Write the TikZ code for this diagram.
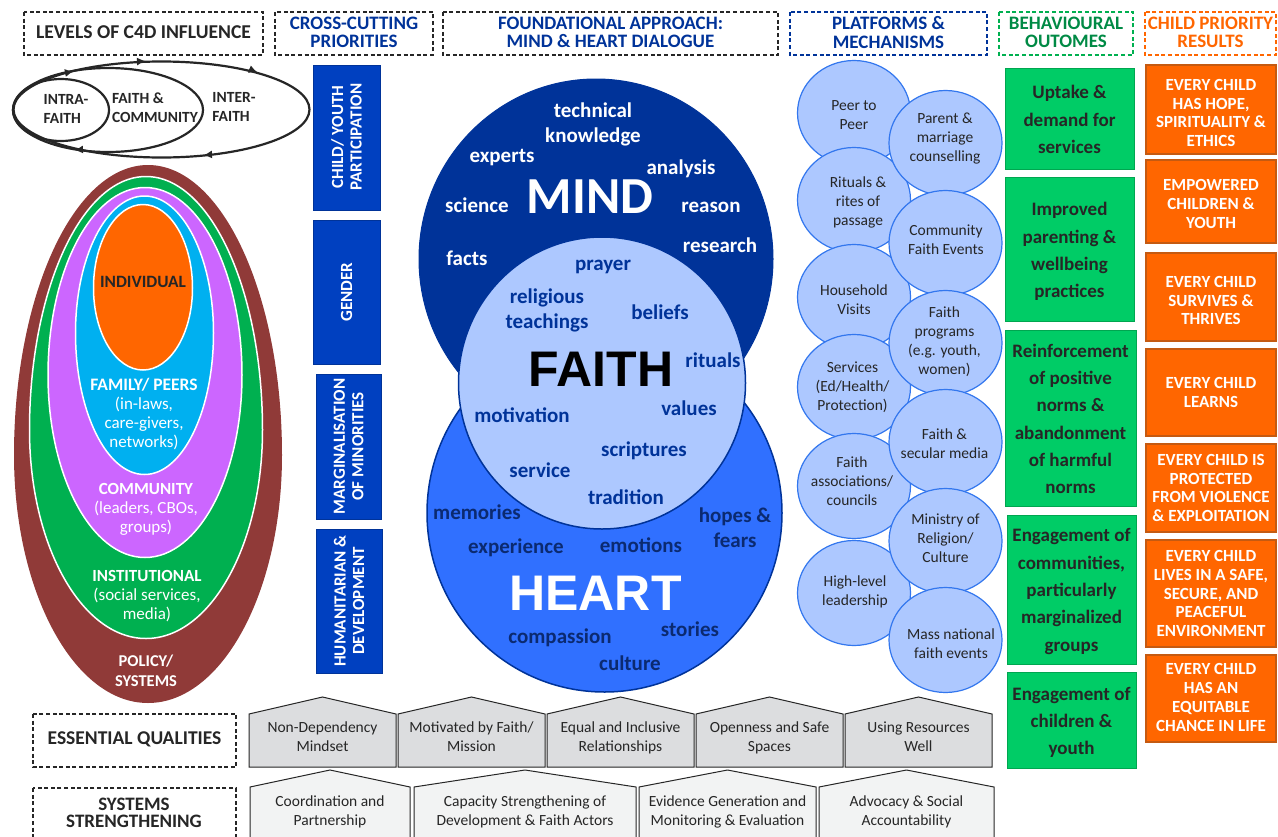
\documentclass[tikz,border=0pt]{standalone}
\usepackage{fontspec}
\setmainfont{Carlito}
\newfontfamily\arialf{Liberation Sans}
\usetikzlibrary{arrows.meta}
\definecolor{navy}{HTML}{003399}
\definecolor{deepnavy}{HTML}{0B2A70}
\definecolor{royal}{HTML}{0040C0}
\definecolor{midblue}{HTML}{3070FF}
\definecolor{pale}{HTML}{ADC8FF}
\definecolor{edgeblue}{HTML}{3377EE}
\definecolor{gren}{HTML}{00CC66}
\definecolor{grenline}{HTML}{00A650}
\definecolor{grentxt}{HTML}{008A45}
\definecolor{orng}{HTML}{FF6600}
\definecolor{orngline}{HTML}{C55A11}
\definecolor{brownr}{HTML}{903A38}
\definecolor{greener}{HTML}{00B050}
\definecolor{purp}{HTML}{CC66FF}
\definecolor{cyanb}{HTML}{00B0F0}
\definecolor{ink}{HTML}{262626}
\definecolor{gr1}{HTML}{DCDDDF}
\definecolor{gr2}{HTML}{F2F3F3}
\tikzset{
 x=1pt,y=-1pt,
 hdr/.style={draw=#1,line width=1.4pt,dash pattern=on 4pt off 2.6pt},
 hdrtxt/.style={align=center,inner sep=0pt,font=\fontsize{19}{18.2}\selectfont\bfseries},
 vbar/.style={fill=royal,draw=navy,line width=1pt,inner sep=0pt},
 vtxt/.style={rotate=90,text=white,align=center,font=\fontsize{17}{18.5}\selectfont\bfseries},
 pshape/.style={fill=pale,draw=edgeblue,line width=1.2pt},
 ptxt/.style={inner sep=0pt,align=center,text=ink,font=\fontsize{15.5}{19}\selectfont},
 gbox/.style={fill=gren,draw=grenline,line width=1pt,inner sep=0pt,align=center,text=ink,font=\fontsize{19}{27.3}\selectfont\bfseries},
 obox/.style={fill=orng,draw=orngline,line width=1.2pt,inner sep=0pt,align=center,text=white,font=\fontsize{17}{18.8}\selectfont\bfseries},
 ring/.style={draw=white,line width=1.5pt,fill=#1},
 lvl/.style={align=center,text=white,font=\fontsize{17}{19}\selectfont},
 word/.style={font=\fontsize{21}{25}\selectfont\bfseries,align=center},
 loopline/.style={draw=ink,line width=2.2pt},
 looptxt/.style={align=left,text=ink,font=\fontsize{15.5}{19}\selectfont\bfseries},
 tip/.style={-{Latex[length=8pt,width=8pt]},draw=ink,line width=1pt},
 house/.style={draw=ink,line width=1pt,fill=#1},
 htxt/.style={align=center,text=ink,font=\fontsize{15.5}{19}\selectfont},
}
\newcommand{\hdrbox}[8]{% name x1 y1 x2 y2 colour textcolour text
 \draw[hdr=#6] (#2,#3) rectangle (#4,#5);
 \node[hdrtxt,text=#7] (#1) at ({(#2+#4)/2},{(#3+#5)/2-1}) {#8};}
\newcommand{\housebox}[7]{% name x1 x2 apex colour text-y text
 \fill[house=#5] (#2,#4+17) -- ({(#2+#3)/2},#4) -- (#3,#4+17) -- (#3,#4+70) -- (#2,#4+70) -- cycle;
 \node[htxt] (#1) at ({(#2+#3)/2},#6) {#7};}
\newcommand{\rbox}[8][0]{% [text dy] style name x1 y1 x2 y2 text
 \draw[#2] (#4,#5) rectangle (#6,#7);
 \node[inner sep=0pt,#2,draw=none,fill=none] (#3) at ({(#4+#6)/2},{(#5+#7)/2+#1}) {#8};}
\newcommand{\egg}[6]{% style cx top wide bottom rx
 \path[#1] (#2-#6,#4) .. controls (#2-#6,{#4-.5523*(#4-#3)}) and ({#2-.5523*#6},#3) .. (#2,#3)
  .. controls ({#2+.5523*#6},#3) and (#2+#6,{#4-.5523*(#4-#3)}) .. (#2+#6,#4)
  .. controls (#2+#6,{#4+.5523*(#5-#4)}) and ({#2+.5523*#6},#5) .. (#2,#5)
  .. controls ({#2-.5523*#6},#5) and (#2-#6,{#4+.5523*(#5-#4)}) .. (#2-#6,#4) -- cycle;}
\begin{document}
\begin{tikzpicture}
\useasboundingbox (0,0) rectangle (1278,836);
\fill[white] (0,0) rectangle (1278,836);
% headers
\hdrbox{h1}{24}{12}{263}{55}{ink}{ink}{\fontsize{19.6}{18}\selectfont LEVELS OF C4D INFLUENCE}
\hdrbox{h2}{275}{12}{433}{55}{ink}{navy}{CROSS-CUTTING\\PRIORITIES}
\hdrbox{h3}{443}{12}{778}{55}{ink}{navy}{FOUNDATIONAL APPROACH:\\MIND \& HEART DIALOGUE}
\hdrbox{h4}{790}{12}{987}{55}{navy}{navy}{PLATFORMS \&\\MECHANISMS}
\hdrbox{h5}{999}{12}{1133}{55}{greener}{grentxt}{BEHAVIOURAL\\OUTOMES}
\hdrbox{h6}{1145}{12}{1276}{55}{orng}{orng}{CHILD PRIORITY\\RESULTS}
% loops
\draw[loopline] (161.5,109.5) ellipse [x radius=148,y radius=48];
\draw[loopline] (108,110) ellipse [x radius=95,y radius=42];
\draw[loopline] (61,110) ellipse [x radius=48,y radius=31];
\draw[tip] (137,61.5) -- (145,61);
\draw[tip] (65,73) -- (73,71.5);
\draw[tip] (249,69) -- (257,72);
\draw[tip] (212,154.5) -- (204,155);
\draw[tip] (83,149.5) -- (75,150);
\node[looptxt] (lp1) at (66,108.5) {INTRA-\\FAITH};
\node[looptxt] (lp2) at (155,107.5) {FAITH \&\\COMMUNITY};
\node[looptxt] (lp3) at (234,106.5) {INTER-\\FAITH};
% nested
\egg{fill=brownr}{148}{165}{455}{703}{134}
\egg{ring=greener}{146}{176.5}{430}{638.5}{116.5}
\egg{ring=purp}{145}{187.5}{375}{557.5}{97}
\egg{ring=cyanb}{144.5}{196}{333}{474.5}{69}
\egg{ring=orng}{143}{204.5}{288}{370}{49.5}
\node[lvl,text=ink,font=\fontsize{17.3}{19}\selectfont\bfseries] (n1) at (143,282) {INDIVIDUAL};
\node[lvl] (n2) at (144,414) {\fontsize{17.5}{19}\selectfont\textbf{FAMILY/ PEERS}\\(in-laws,\\care-givers,\\networks)};
\node[lvl] (n3) at (146,509) {\textbf{COMMUNITY}\\(leaders, CBOs,\\groups)};
\node[lvl] (n4) at (147,596) {\textbf{INSTITUTIONAL}\\(social services,\\media)};
\node[lvl,font=\fontsize{16.5}{19.5}\selectfont\bfseries] (n5) at (146,671) {POLICY/\\SYSTEMS};
% cross cutting bars
\draw[vbar] (313,65) rectangle (380,210);
\node[vtxt] (v1) at (346.5,137) {CHILD/ YOUTH\\PARTICIPATION};
\draw[vbar] (313,220) rectangle (380,364);
\node[vtxt] (v2) at (346.5,292) {GENDER};
\draw[vbar] (316,374) rectangle (381,519);
\node[vtxt] (v3) at (348.5,446.5) {MARGINALISATION\\OF MINORITIES};
\draw[vbar] (316,529) rectangle (382,673);
\node[vtxt] (v4) at (349,601) {HUMANITARIAN \&\\DEVELOPMENT};
% central circles
\draw[fill=navy,draw=navy,line width=1pt] (596,259) ellipse [x radius=177,y radius=180];
\draw[fill=midblue,draw=navy,line width=1.5pt] (604.5,513) ellipse [x radius=177.5,y radius=179];
\draw[fill=pale,draw=navy,line width=1.5pt] (602,383) ellipse [x radius=143.5,y radius=146];
\node[text=white,font=\fontsize{52}{52}\selectfont\bfseries] (mind) at (590,197) {MIND};
\node[text=black,font=\arialf\fontsize{50}{50}\selectfont\bfseries] (faith) at (601,369) {FAITH};
\node[text=white,font=\arialf\fontsize{50}{50}\selectfont\bfseries] (heart) at (595.5,593) {HEART};
\begin{scope}[every node/.style={word,text=white}]
\node (w1) at (593,124) {technical\\knowledge};
\node (w2) at (502,158) {experts};
\node (w3) at (681,169) {analysis};
\node (w4) at (477,205) {science};
\node (w5) at (711,207) {reason};
\node (w6) at (720,245) {research};
\node (w7) at (467,258) {facts};
\end{scope}
\begin{scope}[every node/.style={word,text=navy}]
\node (f1) at (603,266.5) {prayer};
\node (f2) at (547,310) {religious\\teachings};
\node (f3) at (660,312) {beliefs};
\node (f4) at (713,360) {rituals};
\node (f5) at (522,415) {motivation};
\node (f6) at (689,408) {values};
\node (f7) at (644,451) {scriptures};
\node (f8) at (540,470) {service};
\node (f9) at (626,497) {tradition};
\end{scope}
\begin{scope}[every node/.style={word,text=deepnavy}]
\node (g1) at (477,512) {memories};
\node (g2) at (516,548) {experience};
\node (g3) at (641,545) {emotions};
\node (g4) at (735,528) {hopes \&\\fears};
\node (g5) at (560,638) {compassion};
\node (g6) at (690,629) {stories};
\node (g7) at (630,663) {culture};
\end{scope}
% platforms: left column first, then right column, each top to bottom
\foreach \cx/\cy in {854/113,854/200,854/297,854/387,854/486,854/593,945.5/143,945.5/243,945.5/343,945.5/442,945.5/541,945.5/640}
  {\draw[pshape] (\cx,\cy) ellipse [x radius=56.5,y radius=52.5];}
\node[ptxt] (p1) at (854,115) {Peer to\\Peer};
\node[ptxt] (p3) at (858,202) {Rituals \&\\rites of\\passage};
\node[ptxt] (p5) at (854,299.5) {Household\\Visits};
\node[ptxt] (p7) at (852.5,387) {Services\\(Ed/Health/\\Protection)};
\node[ptxt] (p9) at (852,481) {Faith\\associations/\\councils};
\node[ptxt] (p11) at (855,591.5) {High-level\\leadership};
\node[ptxt] (p2) at (945,139) {Parent \&\\marriage\\counselling};
\node[ptxt] (p4) at (946,239.5) {Community\\Faith Events};
\node[ptxt] (p6) at (944.5,342) {Faith\\programs\\(e.g. youth,\\women)};
\node[ptxt] (p8) at (944.5,443.5) {Faith \&\\secular media};
\node[ptxt] (p10) at (945.5,538) {Ministry of\\Religion/\\Culture};
\node[ptxt] (p12) at (951,643.5) {Mass national\\faith events};
% behaviour
\rbox[1]{gbox}{b1}{1005}{68}{1134}{169}{Uptake \&\\demand for\\services}
\rbox[2.5]{gbox}{b2}{1005}{177}{1134}{321}{Improved\\parenting \&\\wellbeing\\practices}
\rbox[1]{gbox}{b3}{1005}{330}{1136}{506}{Reinforcement\\of positive\\norms \&\\abandonment\\of harmful\\norms}
\rbox[2]{gbox}{b4}{1007}{515}{1136}{664}{Engagement of\\communities,\\particularly\\marginalized\\groups}
\rbox[2.5]{gbox}{b5}{1007}{672}{1136}{768}{Engagement of\\children \&\\youth}
% results
\rbox[3.5]{obox}{r1}{1146}{65}{1276}{154}{EVERY CHILD\\HAS HOPE,\\SPIRITUALITY \&\\ETHICS}
\rbox[2.5]{obox}{r2}{1146}{160}{1276}{243}{EMPOWERED\\CHILDREN \&\\YOUTH}
\rbox[3.5]{obox}{r3}{1146}{253}{1276}{341}{EVERY CHILD\\SURVIVES \&\\THRIVES}
\rbox{obox}{r4}{1146}{349}{1276}{436}{EVERY CHILD\\LEARNS}
\rbox{obox}{r5}{1146}{444}{1276}{532}{EVERY CHILD IS\\PROTECTED\\FROM VIOLENCE\\\& EXPLOITATION}
\rbox{obox}{r6}{1146}{540}{1276}{647}{EVERY CHILD\\LIVES IN A SAFE,\\SECURE, AND\\PEACEFUL\\ENVIRONMENT}
\rbox[-1]{obox}{r7}{1146}{655}{1276}{742}{EVERY CHILD\\HAS AN\\EQUITABLE\\CHANCE IN LIFE}
% bottom
\draw[hdr=ink] (33,714) rectangle (236,767);
\node[hdrtxt,text=ink,font=\fontsize{19.5}{18}\selectfont\bfseries] (e1) at (134.5,739) {ESSENTIAL QUALITIES};
\draw[hdr=ink] (33,788) rectangle (236,850);
\node[hdrtxt,text=ink,font=\fontsize{19}{17.5}\selectfont\bfseries] (e2) at (134,813) {SYSTEMS\\STRENGTHENING};
\housebox{q1}{249}{396}{697}{gr1}{737}{Non-Dependency\\Mindset}
\housebox{q2}{398}{545}{697}{gr1}{737}{Motivated by Faith/\\Mission}
\housebox{q3}{547}{694}{697}{gr1}{737.5}{Equal and Inclusive\\Relationships}
\housebox{q4}{696}{843}{697}{gr1}{737.5}{Openness and Safe\\Spaces}
\housebox{q5}{845}{992}{697}{gr1}{737}{Using Resources\\Well}
\housebox{s1}{250}{410}{770}{gr2}{811.5}{Coordination and\\Partnership}
\housebox{s2}{414}{636}{770}{gr2}{811.5}{Capacity Strengthening of\\Development \& Faith Actors}
\housebox{s3}{639}{816}{770}{gr2}{811.5}{Evidence Generation and\\Monitoring \& Evaluation}
\housebox{s4}{819}{994}{770}{gr2}{811.5}{Advocacy \& Social\\Accountability}
\end{tikzpicture}
\end{document}
